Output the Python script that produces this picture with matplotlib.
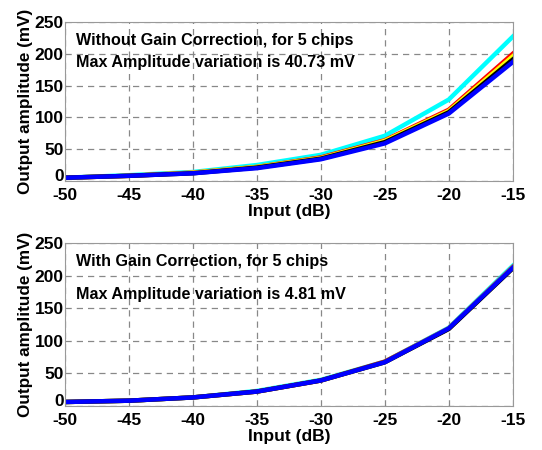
import matplotlib
matplotlib.use("Agg")
import matplotlib.pyplot as plt
from matplotlib.transforms import ScaledTranslation

plt.rcParams["font.family"] = ["Liberation Sans", "DejaVu Sans"]
plt.rcParams["font.weight"] = "bold"
plt.rcParams["axes.unicode_minus"] = False

input_db = [-50, -45, -40, -35, -30, -25, -20, -15]

# without gain correction, one list per chip
raw_cyan = [5, 9, 14, 25, 41, 71, 128, 227]
raw_red = [5, 8, 13, 22, 37, 64, 112, 200]
raw_yellow = [5, 8, 13, 22, 36, 63, 110, 196]
raw_black = [5, 8, 12, 21, 35, 61, 108, 191]
raw_blue = [5, 8, 12, 20, 34, 59, 106, 187]

# with gain correction
cor_cyan = [6, 8, 13, 23, 40, 68, 120, 215]
cor_red = [6, 8, 13, 22, 39, 68, 119, 213]
cor_yellow = [6, 8, 13, 22, 39, 67, 119, 212]
cor_black = [6, 8, 13, 22, 39, 67, 118, 211]
cor_blue = [6, 8, 13, 22, 39, 67, 119, 212]

x_ticks = [-50, -45, -40, -35, -30, -25, -20, -15]
y_ticks = [0, 50, 100, 150, 200, 250]

colors = ["cyan", "red", "yellow", "black", "blue"]

fig = plt.figure(figsize=(5.42, 4.5), dpi=100)
ax1 = fig.add_axes([0.120, 0.598, 0.826, 0.353])
ax2 = fig.add_axes([0.120, 0.098, 0.826, 0.362])


def style(ax, lines, texts):
    for ys, c in zip(lines, colors):
        ax.plot(input_db, ys, color=c, lw=3.2, solid_joinstyle="round")
    ax.set_xlim(-50, -15)
    ax.set_ylim(0, 250)
    ax.set_xticks(x_ticks)
    ax.set_yticks(y_ticks)
    ax.grid(True, linestyle=(0, (5, 4)), color="#888888", lw=0.9)
    for s in ax.spines.values():
        s.set_color("#999999")
    ax.tick_params(axis="y", length=0, pad=1, labelsize=12.5)
    ax.tick_params(axis="x", length=0, pad=5, labelsize=12.5)
    # lift the "0" a little so it clears the "-50" below it
    zero = ax.get_yticklabels()[0]
    zero.set_transform(zero.get_transform()
                       + ScaledTranslation(0, 4 / 72, fig.dpi_scale_trans))
    ax.set_xlabel("Input (dB)", fontsize=12.5, fontweight="bold", labelpad=1)
    ax.set_ylabel("Output amplitude (mV)", fontsize=12.3, fontweight="bold",
                  labelpad=1)
    for (yf, t) in texts:
        ax.text(0.025, yf, t, transform=ax.transAxes, fontsize=11.6,
                fontweight="bold", va="center", ha="left")


style(ax1, [raw_cyan, raw_red, raw_yellow, raw_black, raw_blue],
      [(0.885, "Without Gain Correction, for 5 chips"),
       (0.745, "Max Amplitude variation is 40.73 mV")])
style(ax2, [cor_cyan, cor_red, cor_yellow, cor_black, cor_blue],
      [(0.885, "With Gain Correction, for 5 chips"),
       (0.685, "Max Amplitude variation is 4.81 mV")])

fig.savefig("out.png", dpi=100)
